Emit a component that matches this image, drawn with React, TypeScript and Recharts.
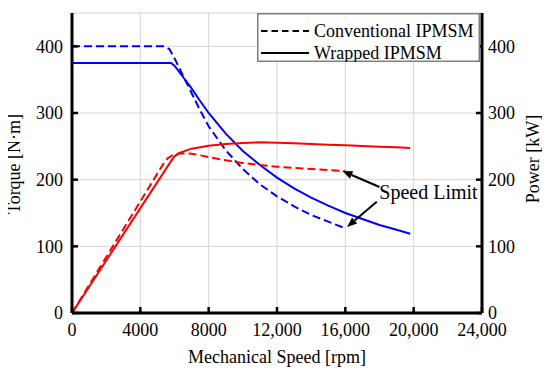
import React from 'react';
import { LineChart, Line, XAxis, YAxis, CartesianGrid, Legend, ReferenceLine, ReferenceDot, Label } from 'recharts';

const speedTicks = [0, 4000, 8000, 12000, 16000, 20000, 24000];
const speedTickLabels = ['0', '4000', '8000', '12,000', '16,000', '20,000', '24,000'];
const valueTicks = [0, 100, 200, 300, 400];

// Conventional IPMSM torque [N·m]
const convTorqueSpeed = [0, 5400, 5700, 6000, 6500, 7000, 7500, 8000, 9000, 10000, 11000, 12000, 13000, 14000, 15000, 16000];
const convTorque = [400, 400, 396, 382, 356, 330, 304, 280, 244, 216, 193, 175, 160, 147, 137, 127];

// Wrapped IPMSM torque [N·m]
const wrapTorqueSpeed = [0, 5800, 6000, 6500, 7000, 7500, 8000, 9000, 10000, 11000, 12000, 13000, 14000, 15000, 16000, 17000, 18000, 19000, 19800];
const wrapTorque = [375, 375, 371, 354, 337, 318, 300, 269, 243, 222, 203, 187, 173, 161, 150, 141, 132, 125, 119];

// Conventional IPMSM power [kW]
const convPowerSpeed = [0, 5400, 5600, 5900, 6300, 7000, 8000, 9000, 10000, 11000, 12000, 13000, 14000, 15000, 16000];
const convPower = [0, 226, 232, 237, 239.5, 239, 234, 229, 225, 222, 219.5, 217.5, 216, 214.5, 213];

// Wrapped IPMSM power [kW]
const wrapPowerSpeed = [0, 5750, 6000, 6300, 6700, 7000, 8000, 9000, 10000, 11000, 12000, 13000, 14000, 15000, 16000, 17000, 18000, 19000, 19800];
const wrapPower = [0, 226, 235, 240, 244, 246.5, 251, 253.5, 255, 256, 255.5, 254.5, 253.5, 252.5, 251.5, 250.5, 249.5, 248.5, 247.5];

const legendItems = ['Conventional IPMSM', 'Wrapped IPMSM'];
const annotationText = 'Speed Limit';
// arrow start (text side) and tip (series end) in data units
const arrowUpper = [{ x: 18000, y: 189 }, { x: 15830, y: 213 }];
const arrowLower = [{ x: 17840, y: 167 }, { x: 16100, y: 129 }];
const annotationAnchor = { x: 17990, y: 170.8 };

const zip = (xs: number[], ys: number[]) => xs.map((x, i) => ({ x, v: ys[i] }));
const convTorqueData = zip(convTorqueSpeed, convTorque);
const wrapTorqueData = zip(wrapTorqueSpeed, wrapTorque);
const convPowerData = zip(convPowerSpeed, convPower);
const wrapPowerData = zip(wrapPowerSpeed, wrapPower);

const FONT = 'Liberation Serif';
const BLUE = '#0000ff';
const RED = '#ff0000';
const DASH = '8 4';
const tickStyle = { fontFamily: FONT, fontSize: 18, fill: '#000' };
const axisLineStyle = { stroke: '#000', strokeWidth: 3 };
const tickLineStyle = { stroke: '#000', strokeWidth: 2.5 };

const Arrow = (p: any) => {
  const { x1, y1, x2, y2 } = p;
  if ([x1, y1, x2, y2].some((v) => typeof v !== 'number' || isNaN(v))) return null;
  const dx = x2 - x1;
  const dy = y2 - y1;
  const len = Math.sqrt(dx * dx + dy * dy) || 1;
  const ux = dx / len;
  const uy = dy / len;
  const hl = 10;
  const hw = 4;
  const bx = x2 - ux * hl;
  const by = y2 - uy * hl;
  const pts = `${x2},${y2} ${bx - uy * hw},${by + ux * hw} ${bx + uy * hw},${by - ux * hw}`;
  return (
    <g>
      <line x1={x1} y1={y1} x2={bx} y2={by} stroke="#000" strokeWidth={2} />
      <polygon points={pts} fill="#000" />
    </g>
  );
};

const AnnotationText = (p: any) => {
  const { cx, cy } = p;
  if (typeof cx !== 'number' || typeof cy !== 'number') return null;
  return (
    <text x={cx} y={cy} style={{ fontFamily: FONT }} fontSize={20} fill="#000" textAnchor="start">
      {annotationText}
    </text>
  );
};

const LegendBox = () => (
  <svg width={223} height={49} style={{ display: 'block' }}>
    <rect x={0.75} y={0.75} width={221.5} height={47.5} fill="#fff" stroke="#7f7f7f" strokeWidth={1.5} />
    <line x1={4} y1={18} x2={52} y2={18} stroke="#000" strokeWidth={2} strokeDasharray="6.5 4" />
    <text x={57} y={23.5} style={{ fontFamily: FONT }} fontSize={18} fill="#000">{legendItems[0]}</text>
    <line x1={4} y1={40} x2={52} y2={40} stroke="#000" strokeWidth={2} />
    <text x={57} y={45.5} style={{ fontFamily: FONT }} fontSize={18} fill="#000">{legendItems[1]}</text>
  </svg>
);

const leftTitle = (props: any) => {
  const vb = props.viewBox || { x: 8, y: 13, width: 64, height: 300 };
  const x = vb.x + 12;
  const y = vb.y + vb.height / 2 + 1;
  return (
    <text x={x} y={y} transform={`rotate(-90, ${x}, ${y})`} textAnchor="middle" style={{ fontFamily: FONT }} fontSize={18} fill="#000">
      Torque [N·m]
    </text>
  );
};

const rightTitle = (props: any) => {
  const vb = props.viewBox || { x: 482, y: 13, width: 60, height: 300 };
  const x = vb.x + 57;
  const y = vb.y + vb.height / 2 - 4;
  return (
    <text x={x} y={y} transform={`rotate(-90, ${x}, ${y})`} textAnchor="middle" style={{ fontFamily: FONT }} fontSize={18} fill="#000">
      Power [kW]
    </text>
  );
};

const bottomTitle = (props: any) => {
  const vb = props.viewBox || { x: 72, y: 313, width: 410, height: 52 };
  const x = vb.x + vb.width / 2;
  const y = vb.y + 49.5;
  return (
    <text x={x} y={y} textAnchor="middle" style={{ fontFamily: FONT }} fontSize={18} fill="#000">
      Mechanical Speed [rpm]
    </text>
  );
};

export default function App() {
  return (
    <div style={{ fontFamily: FONT, margin: '-8px 0 0 -8px', width: 550, height: 373 }}>
      <LineChart width={550} height={373} margin={{ top: 13, right: 8, bottom: 8, left: 8 }} style={{ fontFamily: FONT }}>
        <CartesianGrid xAxisId="bottom" yAxisId="left" stroke="#d4d4d4" strokeWidth={1} />
        <XAxis
          xAxisId="bottom"
          dataKey="x"
          type="number"
          domain={[0, 24000]}
          ticks={speedTicks}
          tickFormatter={(v: number) => speedTickLabels[speedTicks.indexOf(v)] ?? String(v)}
          height={52}
          tick={tickStyle}
          tickSize={-6}
          tickMargin={16}
          axisLine={axisLineStyle}
          tickLine={tickLineStyle}
          allowDataOverflow
          interval={0}
        >
          <Label content={bottomTitle} />
        </XAxis>
        <XAxis
          xAxisId="top"
          orientation="top"
          dataKey="x"
          type="number"
          domain={[0, 24000]}
          ticks={speedTicks}
          height={0}
          tick={false}
          tickSize={-6}
          axisLine={axisLineStyle}
          tickLine={tickLineStyle}
          allowDataOverflow
          interval={0}
        />
        <YAxis
          yAxisId="left"
          orientation="left"
          type="number"
          domain={[0, 450]}
          ticks={valueTicks}
          width={64}
          tick={tickStyle}
          tickSize={-6}
          tickMargin={15}
          axisLine={axisLineStyle}
          tickLine={tickLineStyle}
          allowDataOverflow
          interval={0}
        >
          <Label content={leftTitle} />
        </YAxis>
        <YAxis
          yAxisId="right"
          orientation="right"
          type="number"
          domain={[0, 450]}
          ticks={valueTicks}
          width={60}
          tick={tickStyle}
          tickSize={-6}
          tickMargin={12}
          axisLine={axisLineStyle}
          tickLine={tickLineStyle}
          allowDataOverflow
          interval={0}
        >
          <Label content={rightTitle} />
        </YAxis>
        <Line xAxisId="bottom" yAxisId="left" data={convTorqueData} dataKey="v" type="linear" stroke={BLUE} strokeWidth={2} strokeDasharray={DASH} dot={false} activeDot={false} isAnimationActive={false} />
        <Line xAxisId="bottom" yAxisId="left" data={wrapTorqueData} dataKey="v" type="linear" stroke={BLUE} strokeWidth={2} dot={false} activeDot={false} isAnimationActive={false} />
        <Line xAxisId="bottom" yAxisId="right" data={convPowerData} dataKey="v" type="linear" stroke={RED} strokeWidth={2} strokeDasharray={DASH} dot={false} activeDot={false} isAnimationActive={false} />
        <Line xAxisId="bottom" yAxisId="right" data={wrapPowerData} dataKey="v" type="linear" stroke={RED} strokeWidth={2} dot={false} activeDot={false} isAnimationActive={false} />
        <ReferenceLine xAxisId="bottom" yAxisId="left" segment={arrowUpper} shape={Arrow} ifOverflow="visible" />
        <ReferenceLine xAxisId="bottom" yAxisId="left" segment={arrowLower} shape={Arrow} ifOverflow="visible" />
        <ReferenceDot xAxisId="bottom" yAxisId="left" x={annotationAnchor.x} y={annotationAnchor.y} r={0} shape={AnnotationText} ifOverflow="visible" />
        <Legend
          layout="horizontal"
          verticalAlign="middle"
          align="center"
          content={() => <LegendBox />}
          wrapperStyle={{ left: 257, top: 13, width: 223, height: 49 }}
        />
      </LineChart>
    </div>
  );
}
